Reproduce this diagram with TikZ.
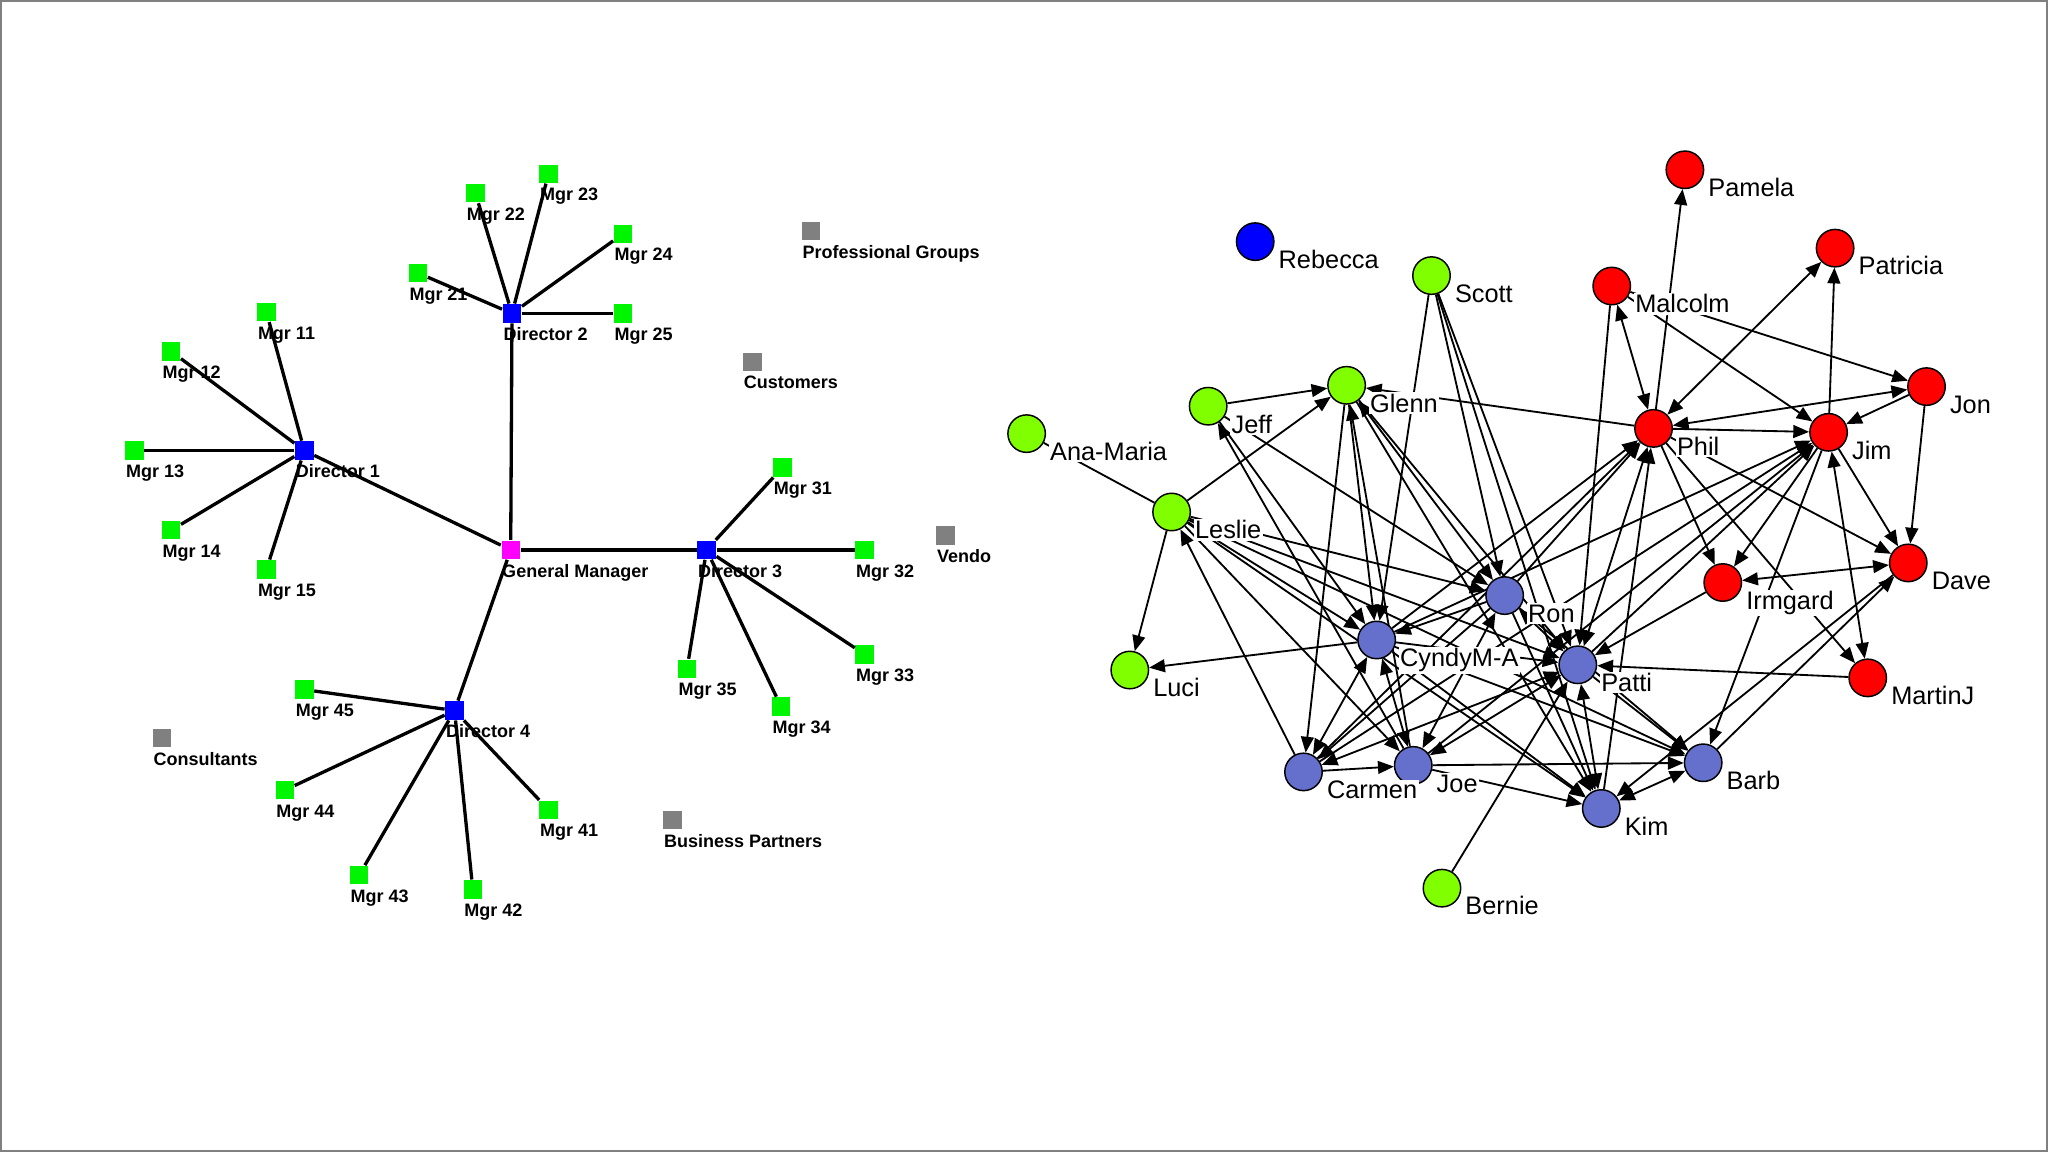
\documentclass[tikz,border=0pt]{standalone}
\usepackage{fontspec}
\setmainfont{Liberation Sans}
\usetikzlibrary{arrows.meta}
\pgfdeclarelayer{edges}
\pgfsetlayers{edges,main}
\definecolor{mgrgreen}{RGB}{0,245,0}
\definecolor{dirblue}{RGB}{0,0,255}
\definecolor{gmpink}{RGB}{255,0,255}
\definecolor{extgray}{RGB}{128,128,128}
\definecolor{limegreen}{RGB}{128,255,0}
\definecolor{staffblue}{RGB}{100,112,204}
\definecolor{mgmtred}{RGB}{255,0,0}
\tikzset{
    unit/.style={rectangle, minimum size=5pt, inner sep=0pt, fill=#1}, % squares of the org chart
    unitlabel/.style={anchor=base west, inner sep=0pt, font=\bfseries\fontsize{4.9}{6}\selectfont},
    reportsto/.style={line width=0.9pt},
    actor/.style={circle, draw, line width=0.4pt, minimum size=10.2pt, inner sep=0pt, fill=#1}, % people of the network
    actorlabel/.style={anchor=base west, fill=white, inner sep=0.4pt, font=\fontsize{6.9}{8}\selectfont},
    tie/.style={line width=0.5pt, -{Triangle[length=4.3pt,width=3.5pt]}},
    mutual/.style={line width=0.5pt, {Triangle[length=4.3pt,width=3.5pt]}-{Triangle[length=4.3pt,width=3.5pt]}},
}
\begin{document}
\begin{tikzpicture}[x=0.0125cm, y=-0.0125cm]
\useasboundingbox (0,0) rectangle (1568,882);
\draw[gray, line width=0.6pt] (1,1) rectangle (1567,881);

% org chart
\node[unit=gmpink] (gm) at (391,421) {};
\foreach \n/\px/\py/\t in {d1/233/345/Director 1, d2/392/240/Director 2, d3/541/421/Director 3, d4/348/544/Director 4}
    \node[unit=dirblue] (\n) at (\px,\py) {};
\foreach \n/\px/\py in {m11/204/239, m12/131/269, m13/103/345, m14/131/406, m15/204/436,
    m21/320/209, m22/364/148, m23/420/133, m24/477/179, m25/477/240,
    m31/599/358, m32/662/421, m33/662/501, m34/598/541, m35/526/512,
    m41/420/620, m42/362/681, m43/275/670, m44/218/605, m45/233/528}
    \node[unit=mgrgreen] (\n) at (\px,\py) {};
\foreach \n/\px/\py in {prof/621/177, cust/576/277, vend/724/410, cons/124/565, bus/515/628}
    \node[unit=extgray] (\n) at (\px,\py) {};
\foreach \n/\t in {gm/General Manager, d1/Director 1, d2/Director 2, d3/Director 3, d4/Director 4,
    m11/Mgr 11, m12/Mgr 12, m13/Mgr 13, m14/Mgr 14, m15/Mgr 15,
    m21/Mgr 21, m22/Mgr 22, m23/Mgr 23, m24/Mgr 24, m25/Mgr 25,
    m31/Mgr 31, m32/Mgr 32, m33/Mgr 33, m34/Mgr 34, m35/Mgr 35,
    m41/Mgr 41, m42/Mgr 42, m43/Mgr 43, m44/Mgr 44, m45/Mgr 45,
    prof/Professional Groups, cust/Customers, vend/Vendo, cons/Consultants, bus/Business Partners}
    \node[unitlabel] (\n-l) at ([shift={(-2.5pt,-7.4pt)}]\n.center) {\t};
\foreach \a/\b in {gm/d1, gm/d2, gm/d3, gm/d4,
    d1/m11, d1/m12, d1/m13, d1/m14, d1/m15,
    d2/m21, d2/m22, d2/m23, d2/m24, d2/m25,
    d3/m31, d3/m32, d3/m33, d3/m34, d3/m35,
    d4/m41, d4/m42, d4/m43, d4/m44, d4/m45}
    \draw[reportsto] (\a) -- (\b);

% informal network
\node[actor=dirblue] (rebecca) at (961,185) {};
\foreach \n/\px/\py in {pamela/1290/130, patricia/1405/190, malcolm/1234/219, jon/1475/296, phil/1266/328,
    jim/1400/331, irmgard/1319/446, dave/1461/431, martinj/1430/519}
    \node[actor=mgmtred] (\n) at (\px,\py) {};
\foreach \n/\px/\py in {scott/1096/211, glenn/1031/295, jeff/925/311, anamaria/786/332, leslie/897/392,
    luci/865/513, bernie/1104/680}
    \node[actor=limegreen] (\n) at (\px,\py) {};
\foreach \n/\px/\py in {ron/1152/456, cyndy/1054/490, patti/1208/509, carmen/998/591, joe/1082/586,
    barb/1304/584, kim/1226/619}
    \node[actor=staffblue] (\n) at (\px,\py) {};
\foreach \n/\t in {rebecca/Rebecca, pamela/Pamela, patricia/Patricia, malcolm/Malcolm, jon/Jon, phil/Phil,
    jim/Jim, irmgard/Irmgard, dave/Dave, martinj/MartinJ, scott/Scott, glenn/Glenn, jeff/Jeff,
    anamaria/Ana-Maria, leslie/Leslie, luci/Luci, bernie/Bernie, ron/Ron, cyndy/CyndyM-A,
    patti/Patti, carmen/Carmen, joe/Joe, barb/Barb, kim/Kim}
    \node[actorlabel] (\n-l) at ([shift={(5.8pt,-7.3pt)}]\n.center) {\t};

\begin{pgfonlayer}{edges}
\draw[line width=0.5pt] (leslie) -- (anamaria);
\foreach \a/\b in {phil/pamela, malcolm/patti, malcolm/jim, malcolm/jon, jim/patricia, jon/jim, phil/jim,
    jon/dave, phil/glenn, jim/dave, phil/dave, phil/irmgard, phil/martinj, irmgard/patti, jim/irmgard,
    patti/jim, jim/barb, barb/dave, dave/kim, patti/barb, martinj/patti, carmen/joe, joe/barb, joe/kim,
    scott/cyndy, scott/ron, scott/patti, scott/kim, glenn/carmen, glenn/cyndy, glenn/patti, glenn/kim,
    joe/glenn, joe/jeff, jeff/glenn, jeff/ron, jeff/cyndy, leslie/luci, leslie/glenn, carmen/leslie,
    leslie/joe, leslie/cyndy, leslie/ron, leslie/patti, leslie/kim, leslie/barb, cyndy/luci,
    bernie/patti, ron/carmen, ron/cyndy, cyndy/patti, cyndy/kim, cyndy/barb, ron/kim, ron/barb,
    cyndy/phil, ron/phil, kim/phil, carmen/phil, joe/jim, carmen/jim, cyndy/jim}
    \draw[tie] (\a) -- (\b);
\foreach \a/\b in {malcolm/phil, phil/patricia, jon/phil, jim/martinj, irmgard/dave, kim/barb, patti/kim,
    glenn/ron, cyndy/carmen, cyndy/joe, ron/joe, patti/joe, patti/carmen, ron/patti, patti/phil}
    \draw[mutual] (\a) -- (\b);
\end{pgfonlayer}
\end{tikzpicture}
\end{document}
